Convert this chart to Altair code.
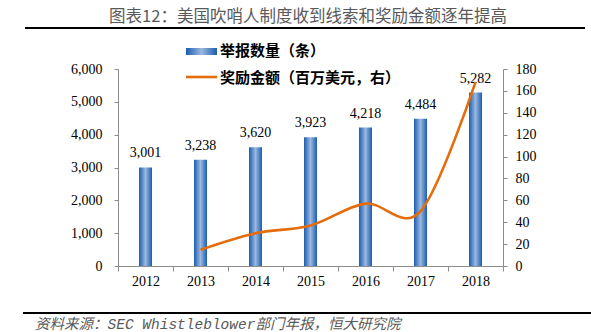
import altair as alt
import pandas as pd

years = ["2012", "2013", "2014", "2015", "2016", "2017", "2018"]
counts = [3001, 3238, 3620, 3923, 4218, 4484, 5282]
awards = [None, 14.8, 30.0, 37.0, 57.0, 50.0, 168.0]

title_text = "图表12：美国吹哨人制度收到线索和奖励金额逐年提高"
legend_bar = "举报数量（条）"
legend_line = "奖励金额（百万美元，右）"
source_text = "资料来源：SEC Whistleblower部门年报，恒大研究院"

df = pd.DataFrame({"year": years, "count": counts, "award": awards})
one = pd.DataFrame({"k": [0]})

NUM_FONT = "Liberation Serif"
CJK_FONT = "Noto Sans CJK SC"
AXIS_GRAY = "#8c8c8c"
ORANGE = "#E46C0A"

bar_grad = alt.Gradient(
    gradient="linear",
    stops=[
        alt.GradientStop(color="#1b5db2", offset=0),
        alt.GradientStop(color="#9cb8dd", offset=0.5),
        alt.GradientStop(color="#1b5db2", offset=1),
    ],
    x1=0, x2=1, y1=0, y2=0,
)

x_enc = alt.X(
    "year:N",
    sort=years,
    title=None,
    scale=alt.Scale(paddingInner=0, paddingOuter=0),
    axis=alt.Axis(
        labelAngle=0, tickBand="extent", domainColor=AXIS_GRAY, tickColor=AXIS_GRAY,
        tickSize=5, labelPadding=3, labelFont=NUM_FONT, labelFontSize=14,
        labelColor="#000000", grid=False,
    ),
)

y_left = alt.Y(
    "count:Q",
    title=None,
    scale=alt.Scale(domain=[0, 6000], nice=False),
    axis=alt.Axis(
        values=[0, 1000, 2000, 3000, 4000, 5000, 6000],
        labelExpr="format(datum.value, ',')",
        domainColor=AXIS_GRAY, tickColor=AXIS_GRAY, tickSize=4, labelPadding=12,
        labelFont=NUM_FONT, labelFontSize=14, labelColor="#000000", grid=False,
    ),
)

base = alt.Chart(df).encode(x=x_enc, y=y_left)

bars = base.mark_bar(size=13, fill=bar_grad)

labels = base.mark_text(
    baseline="bottom", dy=-7, font=NUM_FONT, fontSize=14, color="#000000"
).encode(text=alt.Text("count:Q", format=","))

left = alt.layer(bars, labels)

line = alt.Chart(df).transform_filter("isValid(datum.award)").mark_line(
    color=ORANGE, strokeWidth=2.6, interpolate="cardinal", tension=0
).encode(
    x=x_enc,
    y=alt.Y(
        "award:Q",
        title=None,
        scale=alt.Scale(domain=[0, 180], nice=False),
        axis=alt.Axis(
            orient="right", values=list(range(0, 181, 20)),
            domainColor=AXIS_GRAY, tickColor=AXIS_GRAY, tickSize=4, labelPadding=8,
            labelFont=NUM_FONT, labelFontSize=14, labelColor="#000000", grid=False,
        ),
    ),
)

# decorations (title, rules, legend, source)
title = alt.Chart(one).mark_text(
    text=title_text, font=CJK_FONT, fontSize=16.5, color="#595959", align="center", baseline="middle"
).encode(x=alt.value(190), y=alt.value(-52))

top_rule = alt.Chart(one).mark_rule(color="#000000", strokeWidth=2).encode(
    x=alt.value(-93), x2=alt.value(467), y=alt.value(-41)
)
bottom_rule = alt.Chart(one).mark_rule(color="#000000", strokeWidth=2).encode(
    x=alt.value(-95), x2=alt.value(473), y=alt.value(244)
)

leg_swatch = alt.Chart(one).mark_rect(fill=bar_grad).encode(
    x=alt.value(68), x2=alt.value(99), y=alt.value(-21), y2=alt.value(-14)
)
leg_text1 = alt.Chart(one).mark_text(
    text=legend_bar, font=CJK_FONT, fontSize=15, fontWeight="bold", color="#000000",
    align="left", baseline="middle"
).encode(x=alt.value(102), y=alt.value(-18))

leg_line = alt.Chart(one).mark_rule(color=ORANGE, strokeWidth=2.6).encode(
    x=alt.value(68), x2=alt.value(99), y=alt.value(8)
)
leg_text2 = alt.Chart(one).mark_text(
    text=legend_line, font=CJK_FONT, fontSize=15, fontWeight="bold", color="#000000",
    align="left", baseline="middle"
).encode(x=alt.value(102), y=alt.value(9))

source = alt.Chart(one).mark_text(
    text=source_text, font="Liberation Mono, Noto Sans CJK SC", fontSize=14.5,
    fontStyle="italic", color="#595959", align="left", baseline="top"
).encode(x=alt.value(-83), y=alt.value(249))

chart = alt.layer(
    left, line,
    title, top_rule, bottom_rule, leg_swatch, leg_text1, leg_line, leg_text2, source,
).resolve_scale(y="independent").properties(
    width=385,
    height=197,
    autosize=alt.AutoSizeParams(type="none"),
    padding={"left": 118, "top": 69, "right": 88, "bottom": 66},
).configure_view(stroke=None)

chart.save("out.html", embed_options={"renderer": "svg", "actions": False})
